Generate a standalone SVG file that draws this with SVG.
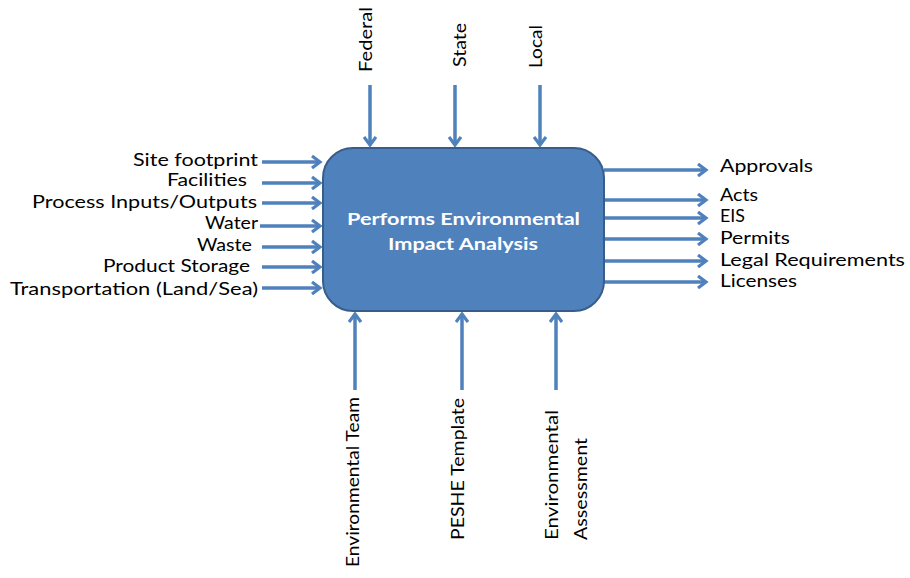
<svg xmlns="http://www.w3.org/2000/svg" width="910" height="578" viewBox="0 0 910 578">
<style>
.lbl{font-family:Lato,"Open Sans","Liberation Sans",sans-serif;font-size:17px;fill:#000}
.ttl{font-family:Lato,"Open Sans","Liberation Sans",sans-serif;font-size:17px;font-weight:bold;fill:#fff}
.arr{stroke:#4F81BD;stroke-width:3.5;fill:none;marker-end:url(#ah)}
</style>
<defs>
<marker id="ah" viewBox="0 0 14 14" markerWidth="14" markerHeight="14" refX="11" refY="7" orient="auto" markerUnits="userSpaceOnUse">
<path d="M3,1 L11,7 L3,13" fill="none" stroke="#4F81BD" stroke-width="3.2" stroke-linejoin="miter"/>
</marker>
</defs>
<rect width="910" height="578" fill="#fff"/>
<g id="connectors">
<line class="arr" x1="262" y1="162" x2="320" y2="162"/>
<line class="arr" x1="262" y1="183" x2="320" y2="183"/>
<line class="arr" x1="262" y1="203" x2="320" y2="203"/>
<line class="arr" x1="260" y1="226" x2="320" y2="226"/>
<line class="arr" x1="262" y1="247" x2="320" y2="247"/>
<line class="arr" x1="262" y1="267" x2="320" y2="267"/>
<line class="arr" x1="262" y1="288" x2="320" y2="288"/>
<line class="arr" x1="604" y1="170" x2="706" y2="170"/>
<line class="arr" x1="604" y1="200" x2="706" y2="200"/>
<line class="arr" x1="604" y1="218" x2="706" y2="218"/>
<line class="arr" x1="604" y1="239" x2="706" y2="239"/>
<line class="arr" x1="604" y1="261" x2="706" y2="261"/>
<line class="arr" x1="604" y1="282" x2="706" y2="282"/>
<line class="arr" x1="370" y1="85" x2="370" y2="145"/>
<line class="arr" x1="455" y1="85" x2="455" y2="145"/>
<line class="arr" x1="540" y1="85" x2="540" y2="145"/>
<line class="arr" x1="355" y1="390" x2="355" y2="314"/>
<line class="arr" x1="462" y1="390" x2="462" y2="314"/>
<line class="arr" x1="556" y1="390" x2="556" y2="314"/>
</g>
<g id="process">
<rect x="323" y="148" width="281" height="163" rx="30" ry="30" fill="#4F81BD" stroke="#385D8A" stroke-width="2"/>
<text class="ttl" x="463.5" y="225" text-anchor="middle" textLength="233" lengthAdjust="spacingAndGlyphs">Performs Environmental</text>
<text class="ttl" x="463" y="250" text-anchor="middle" textLength="150" lengthAdjust="spacingAndGlyphs">Impact Analysis</text>
</g>
<g id="inputs">
<text class="lbl" x="258" y="166" text-anchor="end" textLength="125" lengthAdjust="spacingAndGlyphs">Site footprint</text>
<text class="lbl" x="247" y="186" text-anchor="end" textLength="80" lengthAdjust="spacingAndGlyphs">Facilities</text>
<text class="lbl" x="257" y="208" text-anchor="end" textLength="225" lengthAdjust="spacingAndGlyphs">Process Inputs/Outputs</text>
<text class="lbl" x="258" y="229" text-anchor="end" textLength="53" lengthAdjust="spacingAndGlyphs">Water</text>
<text class="lbl" x="252" y="251" text-anchor="end" textLength="55" lengthAdjust="spacingAndGlyphs">Waste</text>
<text class="lbl" x="250" y="272" text-anchor="end" textLength="147" lengthAdjust="spacingAndGlyphs">Product Storage</text>
<text class="lbl" x="258" y="295" text-anchor="end" textLength="248" lengthAdjust="spacingAndGlyphs">Transportation (Land/Sea)</text>
</g>
<g id="outputs">
<text class="lbl" x="720" y="172" textLength="93" lengthAdjust="spacingAndGlyphs">Approvals</text>
<text class="lbl" x="720" y="201" textLength="38" lengthAdjust="spacingAndGlyphs">Acts</text>
<text class="lbl" x="720" y="222" textLength="25" lengthAdjust="spacingAndGlyphs">EIS</text>
<text class="lbl" x="720" y="244" textLength="70" lengthAdjust="spacingAndGlyphs">Permits</text>
<text class="lbl" x="720" y="266" textLength="185" lengthAdjust="spacingAndGlyphs">Legal Requirements</text>
<text class="lbl" x="720" y="287" textLength="77" lengthAdjust="spacingAndGlyphs">Licenses</text>
</g>
<g id="controls">
<text class="lbl" transform="translate(372,72) rotate(-90)" textLength="65" lengthAdjust="spacingAndGlyphs">Federal</text>
<text class="lbl" transform="translate(466,67) rotate(-90)" textLength="44" lengthAdjust="spacingAndGlyphs">State</text>
<text class="lbl" transform="translate(542,68) rotate(-90)" textLength="43" lengthAdjust="spacingAndGlyphs">Local</text>
</g>
<g id="mechanisms">
<text class="lbl" transform="translate(359,567) rotate(-90)" textLength="170" lengthAdjust="spacingAndGlyphs">Environmental Team</text>
<text class="lbl" transform="translate(464,540) rotate(-90)" textLength="142" lengthAdjust="spacingAndGlyphs">PESHE Template</text>
<text class="lbl" transform="translate(558,540) rotate(-90)" textLength="130" lengthAdjust="spacingAndGlyphs">Environmental</text>
<text class="lbl" transform="translate(587,540) rotate(-90)" textLength="102" lengthAdjust="spacingAndGlyphs">Assessment</text>
</g>
</svg>
